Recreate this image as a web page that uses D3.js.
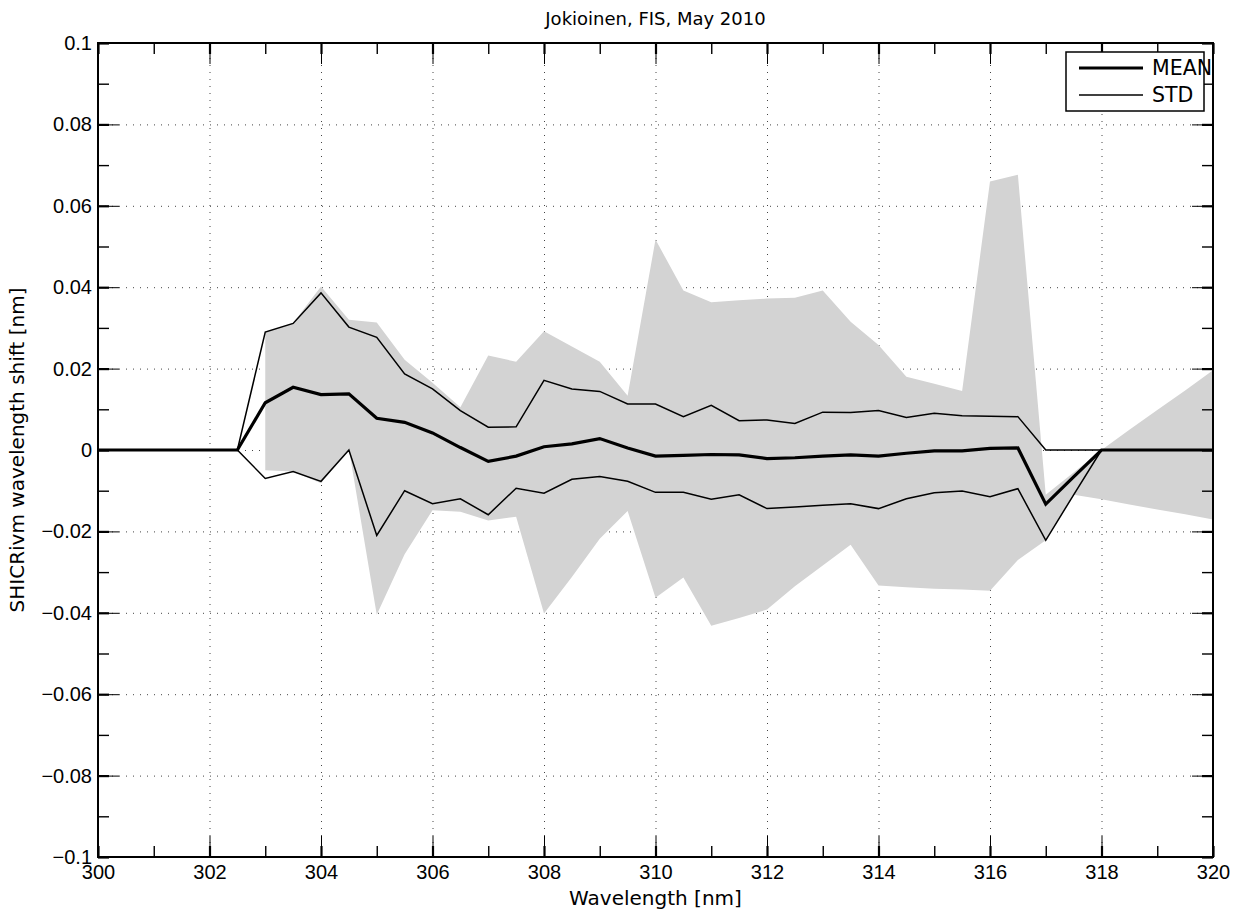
<!DOCTYPE html>
<html>
<head>
<meta charset="utf-8">
<script src="https://cdn.jsdelivr.net/npm/d3@7"></script>
<style>
  body { margin: 0; background: #fff; }
  .tick-label text { font-family: "Liberation Sans", Arial, sans-serif; font-size: 20px; fill: #000; }
  .chart-text { font-family: "DejaVu Sans", Verdana, sans-serif; fill: #000; }
</style>
</head>
<body>
<div class="container"></div>
<script>
// wavelength grid (nm)
const wavelengths = [300, 300.5, 301, 301.5, 302, 302.5, 303, 303.5, 304, 304.5,
  305, 305.5, 306, 306.5, 307, 307.5, 308, 308.5, 309, 309.5,
  310, 310.5, 311, 311.5, 312, 312.5, 313, 313.5, 314, 314.5,
  315, 315.5, 316, 316.5, 317, 317.5, 318, 318.5, 319, 319.5, 320];

const meanShift = [0, 0, 0, 0, 0, 0, 0.0116, 0.0154, 0.0136, 0.0138,
  0.0078, 0.0068, 0.0042, 0.0006, -0.0028, -0.0015, 0.0008, 0.0015, 0.0028, 0.0005,
  -0.0015, -0.0013, -0.0011, -0.0012, -0.0021, -0.0019, -0.0015, -0.0012, -0.0015, -0.0008,
  -0.0002, -0.0002, 0.0004, 0.0005, -0.0133, -0.0066, 0, 0, 0, 0, 0];

const stdUpper = [0, 0, 0, 0, 0, 0, 0.0290, 0.0311, 0.0386, 0.0302,
  0.0277, 0.0187, 0.0150, 0.0097, 0.0056, 0.0057, 0.0171, 0.0150, 0.0144, 0.0113,
  0.0113, 0.0082, 0.0110, 0.0072, 0.0074, 0.0065, 0.0093, 0.0092, 0.0097, 0.0080,
  0.0090, 0.0084, 0.0083, 0.0082, 0, 0, 0, 0, 0, 0, 0];

const stdLower = [0, 0, 0, 0, 0, 0, -0.0070, -0.0053, -0.0077, 0.0000,
  -0.0210, -0.0100, -0.0132, -0.0120, -0.0159, -0.0094, -0.0106, -0.0072, -0.0065, -0.0077,
  -0.0104, -0.0104, -0.0121, -0.0110, -0.0144, -0.0140, -0.0136, -0.0132, -0.0144, -0.0120,
  -0.0105, -0.0101, -0.0115, -0.0095, -0.0222, -0.0110, 0, 0, 0, 0, 0];

// min / max envelope (shaded), no data below 303 nm
const maxShift = [null, null, null, null, null, null, 0.0290, 0.0312, 0.0402, 0.0320,
  0.0313, 0.0222, 0.0165, 0.0105, 0.0232, 0.0217, 0.0292, 0.0254, 0.0217, 0.0133,
  0.0517, 0.0392, 0.0363, 0.0368, 0.0372, 0.0374, 0.0392, 0.0315, 0.0258, 0.0180,
  0.0163, 0.0145, 0.0660, 0.0676, -0.0110, -0.0055, 0.0000, 0.0050, 0.0098, 0.0146, 0.0196];

const minShift = [null, null, null, null, null, null, -0.0050, -0.0053, -0.0082, 0.0003,
  -0.0405, -0.0256, -0.0148, -0.0152, -0.0173, -0.0164, -0.0402, -0.0312, -0.0218, -0.0150,
  -0.0363, -0.0313, -0.0432, -0.0413, -0.0392, -0.0335, -0.0284, -0.0233, -0.0333, -0.0337,
  -0.0341, -0.0343, -0.0346, -0.0270, -0.0222, -0.0110, -0.0121, -0.0134, -0.0146, -0.0158, -0.0171];

const xMajor = [300, 302, 304, 306, 308, 310, 312, 314, 316, 318, 320];
const xMinor = [301, 303, 305, 307, 309, 311, 313, 315, 317, 319];
const yMajor = [-0.1, -0.08, -0.06, -0.04, -0.02, 0, 0.02, 0.04, 0.06, 0.08, 0.1];
const yMinor = [-0.09, -0.07, -0.05, -0.03, -0.01, 0.01, 0.03, 0.05, 0.07, 0.09];

const legendLabels = ["MEAN", "STD"];
const titleText = "Jokioinen, FIS, May 2010";
const xLabel = "Wavelength [nm]";
const yLabel = "SHICRivm wavelength shift [nm]";

const margin = {top: 43, right: 29, bottom: 58, left: 98};
const width = 1242 - margin.left - margin.right;
const height = 915 - margin.top - margin.bottom;

const data = wavelengths.map((w, i) => ({
  w: w, mean: meanShift[i], up: stdUpper[i], lo: stdLower[i], max: maxShift[i], min: minShift[i]
}));

const svg = d3.select(".container")
  .append("svg")
    .attr("width", width + margin.left + margin.right)
    .attr("height", height + margin.top + margin.bottom)
  .append("g")
    .attr("transform", "translate(" + margin.left + "," + margin.top + ")");

const x = d3.scaleLinear().domain([300, 320]).range([0, width]);
const y = d3.scaleLinear().domain([-0.1, 0.1]).range([height, 0]);

// dotted grid
const grid = svg.append("g").attr("class", "grid");
grid.append("g")
  .attr("transform", "translate(0," + height + ")")
  .call(d3.axisBottom(x).tickValues(xMajor).tickSize(-height).tickFormat(""));
grid.append("g")
  .call(d3.axisLeft(y).tickValues(yMajor).tickSize(-width).tickFormat(""));
grid.selectAll(".domain").remove();
grid.selectAll("line")
  .attr("stroke", "#444")
  .attr("stroke-width", 1)
  .attr("stroke-dasharray", "1,6");

// shaded min/max envelope
const area = d3.area()
  .defined(d => d.max !== null)
  .x(d => x(d.w))
  .y0(d => y(d.min))
  .y1(d => y(d.max));

svg.append("path")
  .datum(data)
  .attr("fill", "#d3d3d3")
  .attr("d", area);

const line = key => d3.line().x(d => x(d.w)).y(d => y(d[key]));

svg.append("path").datum(data)
  .attr("fill", "none").attr("stroke", "#000").attr("stroke-width", 1.5)
  .attr("d", line("up"));
svg.append("path").datum(data)
  .attr("fill", "none").attr("stroke", "#000").attr("stroke-width", 1.5)
  .attr("d", line("lo"));
svg.append("path").datum(data)
  .attr("fill", "none").attr("stroke", "#000").attr("stroke-width", 3.2)
  .attr("d", line("mean"));

// frame + inward ticks on all four sides
function ticks(axis, transform, size, sw) {
  const g = svg.append("g").attr("transform", transform).call(axis.tickSize(size).tickFormat(""));
  g.selectAll(".domain").remove();
  g.selectAll("line").attr("stroke", "#000").attr("stroke-width", sw);
  return g;
}
[[d3.axisBottom, "translate(0," + height + ")"],
 [d3.axisTop, "translate(0,0)"]].forEach(([ax, tr]) => {
  ticks(ax(x).tickValues(xMajor), tr, -21, 1);
  ticks(ax(x).tickValues(xMajor), tr, -11, 2.2);
  ticks(ax(x).tickValues(xMinor), tr, -11, 1.4);
});
[[d3.axisLeft, "translate(0,0)"],
 [d3.axisRight, "translate(" + width + ",0)"]].forEach(([ax, tr]) => {
  ticks(ax(y).tickValues(yMajor), tr, -21, 1);
  ticks(ax(y).tickValues(yMajor), tr, -11, 2.2);
  ticks(ax(y).tickValues(yMinor), tr, -11, 1.4);
});

svg.append("rect")
  .attr("width", width).attr("height", height)
  .attr("fill", "none").attr("stroke", "#000").attr("stroke-width", 2);

// tick labels
const fmtY = d => d === 0 ? "0" : d3.format("")(+d.toFixed(2)).replace("-", "\u2212");
const xAxisLbl = svg.append("g").attr("class", "tick-label")
  .attr("transform", "translate(0," + height + ")")
  .call(d3.axisBottom(x).tickValues(xMajor).tickSize(0).tickPadding(8).tickFormat(d3.format("d")));
const yAxisLbl = svg.append("g").attr("class", "tick-label")
  .call(d3.axisLeft(y).tickValues(yMajor).tickSize(0).tickPadding(6).tickFormat(fmtY));
xAxisLbl.select(".domain").remove();
yAxisLbl.select(".domain").remove();
xAxisLbl.selectAll("text").attr("fill", "#000");
yAxisLbl.selectAll("text").attr("fill", "#000");

// titles
svg.append("text").attr("class", "chart-text")
  .attr("x", width / 2).attr("y", -18)
  .attr("text-anchor", "middle").attr("font-size", 18)
  .text(titleText);
svg.append("text").attr("class", "chart-text")
  .attr("x", width / 2).attr("y", height + 48)
  .attr("text-anchor", "middle").attr("font-size", 20)
  .text(xLabel);
svg.append("text").attr("class", "chart-text")
  .attr("transform", "translate(" + (-74) + "," + (height / 2) + ") rotate(-90)")
  .attr("text-anchor", "middle").attr("font-size", 20)
  .text(yLabel);

// legend
const legend = svg.append("g").attr("transform", "translate(" + (width - 147) + ",9)");
legend.append("rect")
  .attr("width", 138).attr("height", 59)
  .attr("fill", "#fff").attr("stroke", "#000").attr("stroke-width", 1.5);
legendLabels.forEach((lab, i) => {
  const ly = 16 + i * 27;
  legend.append("line")
    .attr("x1", 13).attr("x2", 77).attr("y1", ly).attr("y2", ly)
    .attr("stroke", "#000").attr("stroke-width", i === 0 ? 3.2 : 1.5);
  legend.append("text").attr("class", "chart-text")
    .attr("x", 86).attr("y", ly + 7).attr("font-size", 20.5)
    .text(lab);
});
</script>
</body>
</html>
